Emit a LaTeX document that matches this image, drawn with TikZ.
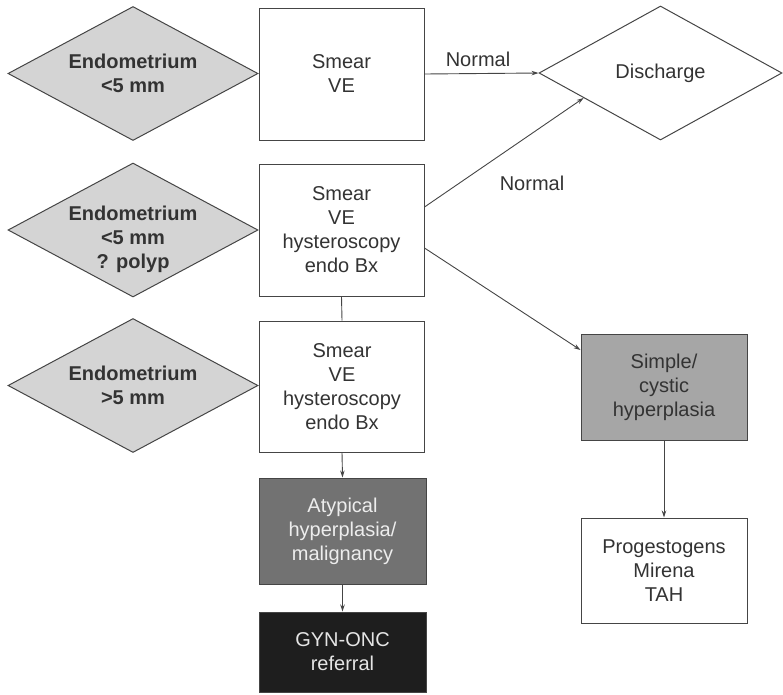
\documentclass[tikz,border=0pt]{standalone}
\usepackage{fontspec}
\setmainfont{Liberation Sans}
\usetikzlibrary{shapes.geometric,arrows.meta,calc}
\definecolor{inkc}{HTML}{333333}
\definecolor{linec}{HTML}{454545}
\definecolor{lightfill}{HTML}{D4D4D4}
\definecolor{midfill}{HTML}{A6A6A6}
\definecolor{darkfill}{HTML}{727272}
\definecolor{blackfill}{HTML}{1E1E1E}
\begin{document}
\begin{tikzpicture}[x=1pt,y=-1pt,
  every node/.style={font=\fontsize{20}{24}\selectfont, text=inkc, align=center},
  decision/.style={diamond, draw=linec, line width=1pt, inner sep=0pt,
    minimum width=250pt, minimum height=134pt},
  graydecision/.style={decision, fill=lightfill},
  dtext/.style={font=\bfseries\fontsize{20}{24}\selectfont},
  stepbox/.style={rectangle, draw=linec, line width=1pt, inner sep=0pt,
    minimum width=165pt, minimum height=132pt, fill=white},
  outbox/.style={rectangle, draw=linec, line width=1pt, inner sep=0pt,
    minimum width=166pt, minimum height=106pt},
  link/.style={draw=linec, line width=0.9pt},
  arrow/.style={link, -{Stealth[length=7pt,width=4.5pt]}},
  lbl/.style={fill=none}
]
\useasboundingbox (0,0) rectangle (783,694);

% left-hand decisions
\node[graydecision] (d1) at (133,73.5) {};
\node[dtext] (d1t) at (d1) {Endometrium\\<5 mm};
\node[graydecision] (d2) at (133,230) {};
\node[dtext] (d2t) at ([yshift=-9pt]d2.center) {Endometrium\\<5 mm\\? polyp};
\node[graydecision] (d3) at (133,385.5) {};
\node[dtext] (d3t) at (d3) {Endometrium\\>5 mm};

% investigations
\node[stepbox] (b1) at (341.5,74) {Smear\\VE};
\node[stepbox] (b2) at (341.5,230) {Smear\\VE\\hysteroscopy\\endo Bx};
\node[stepbox, minimum height=131pt] (b3) at (342,386.5) {Smear\\VE\\hysteroscopy\\endo Bx};

% outcomes
\node[decision, minimum width=243pt] (dis) at (660.5,73) {Discharge};
\node[outbox, fill=midfill, minimum width=166pt] (sim) at (664,387) {Simple/\\cystic\\hyperplasia};
\node[outbox, fill=white, minimum height=105pt] (prog) at (664,570.5) {Progestogens\\Mirena\\TAH};
\node[outbox, fill=darkfill, minimum width=167pt, text=white!93!black] (atyp) at (342.5,531) {Atypical\\hyperplasia/\\malignancy};
\node[outbox, fill=blackfill, minimum width=167pt, minimum height=80pt, text=white!90!black] (gyn) at (342.5,652) {GYN-ONC\\referral};

% connectors
\coordinate (b2up) at ([yshift=23pt]b2.east);
\coordinate (b2dn) at ([yshift=-18pt]b2.east);
\coordinate (disin) at ($(dis.west)!0.37!(dis.south)$);
\coordinate (simin) at ([yshift=37pt]sim.west);

\draw[arrow] (b1.east) -- (dis.west);
\draw[arrow] (b2up) -- (disin);
\draw[arrow] (b2dn) -- (simin);
\draw[link] (b2.south) -- (b3.north);
\draw[arrow] (b3.south) -- (atyp.north);
\draw[arrow] (atyp.south) -- (gyn.north);
\draw[arrow] (sim.south) -- (prog.north);

\node[lbl] (n1) at (478,59) {Normal};
\node[lbl] (n2) at (532,183) {Normal};
\end{tikzpicture}
\end{document}
